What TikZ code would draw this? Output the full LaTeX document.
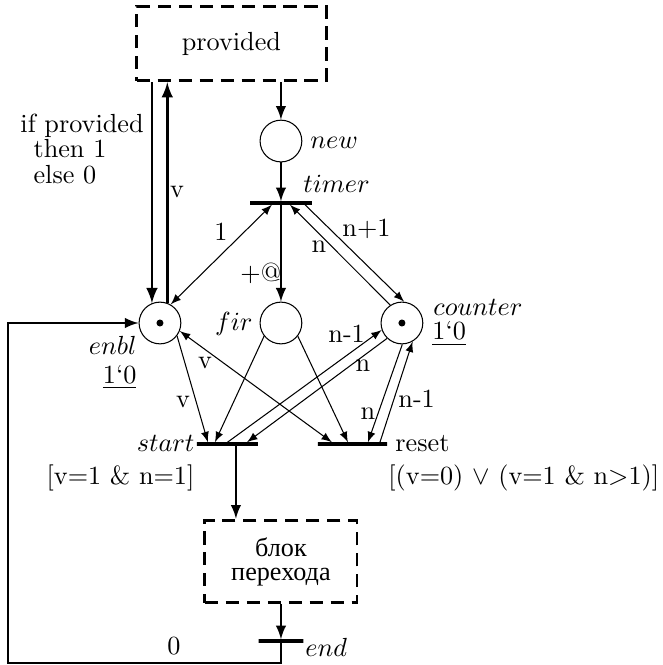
\documentclass[tikz,border=0pt]{standalone}
\usepackage{fontspec}
\newfontfamily\cyrfont{Liberation Serif}

\begin{document}
\begin{tikzpicture}[>=latex,
	place/.style={draw, circle, minimum size=0.56cm, inner sep=0pt},
	trans/.style={draw, line width=1.3pt, minimum height=0pt, inner sep=0pt},
	block/.style={draw, line width=1.1pt, dash pattern=on 5pt off 3pt, inner sep=0pt},
	arc/.style={line width=0.8pt},
	lbl/.style={inner sep=0pt}]
	\useasboundingbox (-3.769, -4.588) rectangle (5.124, 4.333);
	% places
	\node[place] (new) at (0, 2.441) {};
	\node[place] (enbl) at (-1.623, 0) {};
	\node[place] (fir) at (0, 0) {};
	\node[place] (counter) at (1.623, 0) {};
	\fill (enbl) circle (0.047);
	\fill (counter) circle (0.047);
	% transitions
	\node[trans, minimum width=0.83cm] (timer) at (0, 1.610) {};
	\node[trans, minimum width=0.82cm] (start) at (-0.718, -1.623) {};
	\node[trans, minimum width=0.93cm] (reset) at (0.959, -1.623) {};
	\node[trans, minimum width=0.60cm] (end) at (0, -4.266) {};
	% substitution blocks
	\node[block, minimum width=2.54cm, minimum height=1.0cm] (provided) at (-0.664, 3.749) {provided};
	\node[block, minimum width=2.04cm, minimum height=1.11cm, align=center, font=\cyrfont] (trblock) at (0, -3.199) {блок\\[-2.8pt]перехода};
	% names and markings
	\node[lbl, anchor=base west] (newlbl) at (0.389, 2.347) {$new$};
	\node[lbl, anchor=base west] (timerlbl) at (0.295, 1.744) {$timer$};
	\node[lbl, anchor=base east] (firlbl) at (-0.376, -0.094) {$fir$};
	\node[lbl, anchor=base east] (enbllbl) at (-1.932, -0.429) {$enbl$};
	\node[lbl, anchor=base east] (enblmark) at (-1.932, -0.805) {\underline{1`0}};
	\node[lbl, anchor=base west] (counterlbl) at (2.039, 0.107) {$counter$};
	\node[lbl, anchor=base west] (countermark) at (2.025, -0.228) {\underline{1`0}};
	\node[lbl, anchor=base east] (startlbl) at (-1.154, -1.730) {$start$};
	\node[lbl, anchor=base east] (startguard) at (-1.154, -2.173) {[v=1 \& n=1]};
	\node[lbl, anchor=base west] (resetlbl) at (1.529, -1.730) {reset};
	\node[lbl, anchor=base west] (resetguard) at (1.435, -2.160) {[(v=0) $\vee$ (v=1 \& n>1)]};
	\node[lbl, anchor=base west] (endlbl) at (0.322, -4.480) {$end$};
	% upper part
	\draw[arc, line width=1pt, ->] (provided.south -| enbl.112) -- (enbl.112);
	\draw[arc, line width=1pt, ->] (enbl.70) -- (enbl.70 |- provided.south);
	\draw[arc, ->] (provided.south -| new) -- (new);
	\draw[arc, ->] (new) -- (timer);
	\draw[arc, ->] (timer) -- (fir);
	\draw[<->] (enbl.60) -- ([xshift=-0.121cm]timer.south);
	\draw[->] ([xshift=0.322cm]timer.south) -- (counter.84);
	\draw[->] (counter.123) -- ([xshift=0.121cm]timer.south);
	\node[lbl, anchor=north west, align=left] (cond) at (-3.501, 2.817) {if provided\\[-2.1pt]\hspace*{0.5em}then 1\\[-2.1pt]\hspace*{0.5em}else 0};
	\node[lbl, anchor=base] (vprov) at (-1.395, 1.677) {v};
	\node[lbl, anchor=base] (one) at (-0.805, 1.100) {1};
	\node[lbl, anchor=base west] (delay) at (-0.550, 0.550) {+@};
	\node[lbl, anchor=base west] (nplus) at (0.818, 1.154) {n+1};
	\node[lbl, anchor=base] (nback) at (0.510, 0.952) {n};
	% lower part
	\draw[->] (enbl.-37) -- ([xshift=-0.262cm]start.north);
	\draw[<->] (enbl.-22) -- ([xshift=-0.275cm]reset.north);
	\draw[->] (fir.-142) -- ([xshift=-0.168cm]start.north);
	\draw[->] (fir.-38) -- ([xshift=-0.060cm]reset.north);
	\draw[->] (start.north) -- (counter.199);
	\draw[->] (counter.226) -- ([xshift=0.262cm]start.north);
	\draw[->] (counter.271) -- ([xshift=0.208cm]reset.north);
	\draw[->] ([xshift=0.369cm]reset.north) -- (counter.-60);
	\node[lbl, anchor=base] (vreset) at (-1.019, -0.604) {v};
	\node[lbl, anchor=base] (vstart) at (-1.315, -1.127) {v};
	\node[lbl, anchor=base west] (nminus) at (0.630, -0.255) {n-1};
	\node[lbl, anchor=base] (nstart) at (1.100, -0.657) {n};
	\node[lbl, anchor=base] (nreset) at (1.167, -1.301) {n};
	\node[lbl, anchor=base west] (nminusr) at (1.569, -1.140) {n-1};
	% block and return arc
	\coordinate (startout) at ([xshift=0.114cm]start.south);
	\draw[arc, ->] (startout) -- (startout |- trblock.north);
	\draw[arc, ->] (trblock) -- (end);
	\coordinate (loopbot) at (0, -4.561);
	\coordinate (loopturn) at (-3.662, 0);
	\draw[arc, ->] (end.center) -- (loopbot) -| (loopturn) -- (enbl);
	\node[lbl, anchor=base] (zero) at (-1.435, -4.453) {0};
\end{tikzpicture}
\end{document}
